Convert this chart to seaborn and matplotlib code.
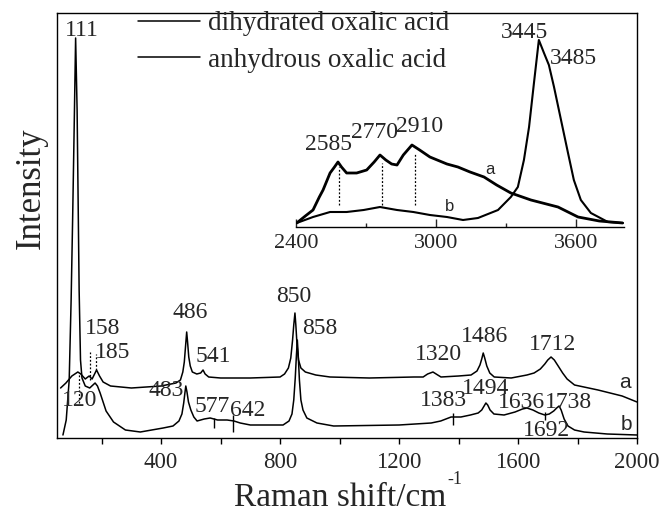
import numpy as np
import pandas as pd
import matplotlib
matplotlib.use("Agg")
import matplotlib.pyplot as plt
from matplotlib.ticker import FixedLocator
import seaborn as sns

# ---------------- data ----------------
# main panel, curve a: dihydrated oxalic acid (offset upwards)
x_a = [62, 80, 100, 120, 130, 145, 158, 168, 183, 193, 205, 230, 300, 400, 450, 465,
       473, 478, 482, 486, 489, 493, 498, 505, 520, 533, 541, 548, 560, 600, 700, 800,
       815, 828, 836, 842, 846, 850, 853, 857, 862, 870, 885, 920, 968, 1100, 1250,
       1281, 1296, 1314, 1330, 1341, 1400, 1442, 1462, 1472, 1478, 1483, 1488, 1495,
       1505, 1520, 1577, 1630, 1654, 1675, 1690, 1700, 1711, 1722, 1735, 1750, 1765,
       1790, 1869, 1950, 2000]
y_a = [50, 55, 62, 66, 64, 59, 62, 59, 68, 62, 56, 52, 50, 52, 55, 58,
       66, 76, 91, 106, 96, 81, 72, 66, 64, 65, 68, 64, 61, 60, 60, 61,
       64, 70, 80, 98, 113, 125, 113, 93, 78, 70, 66, 63, 61, 60, 61,
       61, 64, 66, 63, 61, 62, 63, 67, 73, 79, 85, 80, 72,
       65, 61, 60, 63, 65, 69, 74, 78, 81, 78, 72, 65, 59,
       53, 48, 42, 36]

# main panel, curve b: anhydrous oxalic acid
x_b = [70, 81, 91, 97.5, 102.5, 107.6, 112.6, 117.6, 121, 124.4, 129, 134, 145, 160,
       178, 186, 195, 205, 215, 240, 280, 330, 407, 440, 460, 470, 476, 480, 483, 487,
       492, 500, 510, 521, 545, 565, 590, 622, 645, 666, 700, 810, 830, 840, 846, 851,
       855, 858, 861, 865, 870, 877, 890, 924, 980, 1200, 1308, 1340, 1375, 1408, 1440,
       1466, 1478, 1486, 1492, 1498, 1506, 1519, 1553, 1590, 1615, 1630, 1650, 1670,
       1690, 1705, 1720, 1730, 1738, 1745, 1755, 1768, 1790, 1822, 1900, 2000]
y_b = [3, 18, 58, 138, 218, 308, 400, 328, 238, 148, 78, 60, 52, 50,
       55, 52, 45, 36, 27, 16, 8, 6, 10, 12, 17, 24, 35, 45, 52, 46,
       36, 28, 21, 17, 19, 20, 18, 18, 17, 15, 13, 13, 17, 24, 38, 60,
       83, 98, 83, 58, 38, 28, 20, 15, 12, 13, 15, 17, 21, 21, 23,
       25, 28, 32, 35, 33, 28, 24, 23, 26, 29, 30, 28, 25,
       23, 24, 27, 30, 32, 28, 19, 12, 8, 6, 4, 3]

# inset, curve a
xi_a = [2403, 2440, 2473, 2500, 2516, 2546, 2565, 2580, 2595, 2617, 2660, 2703, 2735,
        2760, 2785, 2810, 2833, 2860, 2897, 2930, 2974, 3047, 3094, 3146, 3206, 3260,
        3321, 3407, 3523, 3609, 3700, 3800]
yi_a = [4, 11, 17, 30, 37, 54, 60, 65, 60, 54, 54, 57, 65,
        72, 67, 63, 62, 72, 82, 77, 70, 63, 60, 55, 50, 42,
        34, 27, 20, 10, 6, 4]

# inset, curve b
xi_b = [2403, 2473, 2546, 2617, 2690, 2760, 2833, 2903, 2974, 3047, 3116, 3180, 3266,
        3321, 3351, 3377, 3399, 3420, 3441, 3463, 3484, 3506, 3536, 3566, 3591, 3621,
        3664, 3737, 3801]
yi_b = [4, 10, 15, 15, 17, 20, 17, 15, 12, 10, 7, 9, 17,
        30, 40, 67, 100, 144, 187, 174, 162, 140, 107, 74, 47, 27,
        14, 5, 4]

series_names = ["dihydrated oxalic acid", "anhydrous oxalic acid"]

main_labels = ["111", "158", "185", "120", "486", "541", "483", "577", "642", "850",
               "858", "1320", "1486", "1712", "1383", "1494", "1636", "1738", "1692"]
inset_labels = ["2585", "2770", "2910", "3445", "3485"]

# dotted guide lines (peak position, y from, y to)
main_dotted = [(125, 65, 35), (161, 86, 58), (181, 84, 68)]
inset_dotted = [(2585, 60, 22), (2770, 64, 22), (2910, 74, 22)]
# small solid markers on curve b (peak position, y from, y to)
main_marks = [(577, 20, 10), (642, 23, 6), (1383, 25, 13), (1692, 26, 18)]

# ---------------- style ----------------
sns.set_style("ticks")
plt.rcParams["font.family"] = ["Liberation Serif", "DejaVu Serif"]
plt.rcParams["axes.linewidth"] = 1.0

W, H = 662, 520
fig = plt.figure(figsize=(W / 100, H / 100), dpi=100)


def fx(px):
    return px / W


def fy(py):
    return 1 - py / H


ax = fig.add_axes([fx(57), fy(438), fx(637) - fx(57), fy(13) - fy(438)])

df_main = pd.concat([
    pd.DataFrame({"shift": x_a, "intensity": y_a, "sample": series_names[0]}),
    pd.DataFrame({"shift": x_b, "intensity": y_b, "sample": series_names[1]}),
])
sns.lineplot(data=df_main, x="shift", y="intensity", hue="sample",
             palette=["black", "black"], sort=False, estimator=None,
             linewidth=1.1, ax=ax)

ax.set_xlim(50, 2000)
ax.set_ylim(0, 425)
ax.set_yticks([])
ax.xaxis.set_major_locator(FixedLocator([400, 800, 1200, 1600, 2000]))
ax.xaxis.set_minor_locator(FixedLocator([200, 600, 1000, 1400, 1800]))
ax.tick_params(axis="x", which="both", direction="out", length=4, width=1,
               labelsize=16.5, pad=6, color="black")
ax.set_xlabel("")
ax.set_ylabel("")
for s in ax.spines.values():
    s.set_visible(True)
    s.set_color("black")
    s.set_linewidth(1.0)

sns.move_legend(ax, loc="upper left", bbox_to_anchor=((138 - 57) / 580, (438 - 11) / 425),
                frameon=False, title=None, fontsize=19.5, handlelength=2.29,
                handletextpad=0.3, labelspacing=0.43, borderpad=0, borderaxespad=0)
for ln in ax.get_legend().get_lines():
    ln.set_linewidth(1.1)

for xv, y0, y1 in main_dotted:
    ax.vlines(xv, y1, y0, colors="black", linestyles=(0, (1.5, 1.5)), linewidth=0.9)
for xv, y0, y1 in main_marks:
    ax.vlines(xv, y1, y0, colors="black", linewidth=1.0)

# ---------------- inset ----------------
axi = fig.add_axes([fx(296), fy(227), fx(624) - fx(296), fy(35) - fy(227)])
axi.patch.set_alpha(0)
df_in = pd.concat([
    pd.DataFrame({"shift": xi_a, "intensity": yi_a, "sample": "a"}),
    pd.DataFrame({"shift": xi_b, "intensity": yi_b, "sample": "b"}),
])
sns.lineplot(data=df_in[df_in["sample"] == "a"], x="shift", y="intensity",
             color="black", sort=False, estimator=None, linewidth=2.0, ax=axi)
sns.lineplot(data=df_in[df_in["sample"] == "b"], x="shift", y="intensity",
             color="black", sort=False, estimator=None, linewidth=1.5, ax=axi)
axi.set_xlim(2400, 3806)
axi.set_ylim(0, 192)
axi.set_yticks([])
axi.xaxis.set_major_locator(FixedLocator([2400, 3000, 3600]))
axi.xaxis.set_minor_locator(FixedLocator([2700, 3300]))
axi.tick_params(axis="x", which="major", direction="in", length=6, width=1,
                labelsize=16, pad=5)
axi.tick_params(axis="x", which="minor", direction="in", length=3, width=1)
axi.set_xlabel("")
axi.set_ylabel("")
for k in ["top", "left", "right"]:
    axi.spines[k].set_visible(False)
axi.spines["bottom"].set_color("black")
axi.spines["bottom"].set_linewidth(1.0)
for xv, y0, y1 in inset_dotted:
    axi.vlines(xv, y1, y0, colors="black", linestyles=(0, (1.5, 1.5)), linewidth=0.9)

# ---------------- text ----------------
main_pos = [(82, 30), (103, 328), (113, 353), (80, 401), (190, 313), (213, 357),
            (166, 391), (212, 407), (248, 410), (294, 296), (320, 329), (438, 354),
            (485, 336), (553, 344), (443, 401), (486, 389), (521, 403), (568, 403),
            (546, 430)]
for lab, (px, py) in zip(main_labels, main_pos):
    fig.text(fx(px), fy(py), lab, ha="center", va="center", fontsize=17)

inset_pos = [(328, 144), (375, 133), (420, 127), (524, 32), (573, 59)]
for lab, (px, py) in zip(inset_labels, inset_pos):
    fig.text(fx(px), fy(py), lab, ha="center", va="center", fontsize=17)

sans = ["Liberation Sans", "DejaVu Sans"]
fig.text(fx(625), fy(383), "a", ha="center", va="center", fontsize=15, family=sans)
fig.text(fx(626), fy(425), "b", ha="center", va="center", fontsize=15, family=sans)
fig.text(fx(490), fy(169), "a", ha="center", va="center", fontsize=12, family=sans)
fig.text(fx(450), fy(207), "b", ha="center", va="center", fontsize=12, family=sans)

fig.text(fx(31), fy(188), "Intensity", rotation=90, ha="center", va="center", fontsize=25)
fig.text(fx(446), fy(498), "Raman shift/cm", ha="right", va="center", fontsize=24)
fig.text(fx(447), fy(480), "-1", ha="left", va="center", fontsize=13)

fig.savefig("out.png", dpi=100)
